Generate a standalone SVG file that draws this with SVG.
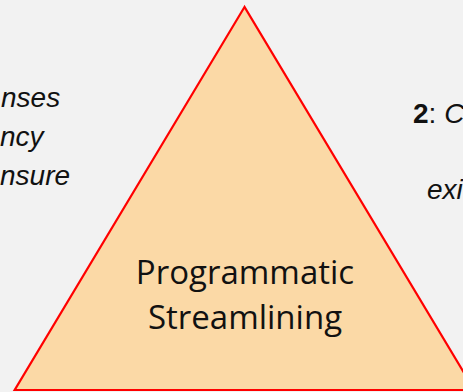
<svg xmlns="http://www.w3.org/2000/svg" width="463" height="392" viewBox="0 0 463 392">
  <style>
    .side { font-family: "Liberation Sans", Arial, sans-serif; font-size: 28px; fill: #111111; }
    .it { font-style: italic; }
    .bd { font-weight: bold; }
    .center { font-family: "Open Sans", "Liberation Sans", sans-serif; font-size: 33px; fill: #111111; text-anchor: middle; }
  </style>
  <rect x="0" y="0" width="463" height="392" fill="#f2f2f2"/>
  <g id="left-text">
    <text class="side it" x="1" y="107">nses</text>
    <text class="side it" x="0" y="146">ncy</text>
    <text class="side it" x="0" y="185">nsure</text>
  </g>
  <g id="right-text">
    <text class="side" x="413" y="123"><tspan class="bd">2</tspan>: <tspan class="it">C</tspan></text>
    <text class="side it" x="427" y="199">exi</text>
  </g>
  <g id="triangle">
    <polygon points="244.5,7 14.7,390 474.3,390" fill="#fbd9a6" stroke="#ff0000" stroke-width="2.2" stroke-linejoin="miter"/>
    <text class="center" x="245" y="284">Programmatic</text>
    <text class="center" x="245" y="329">Streamlining</text>
  </g>
</svg>
